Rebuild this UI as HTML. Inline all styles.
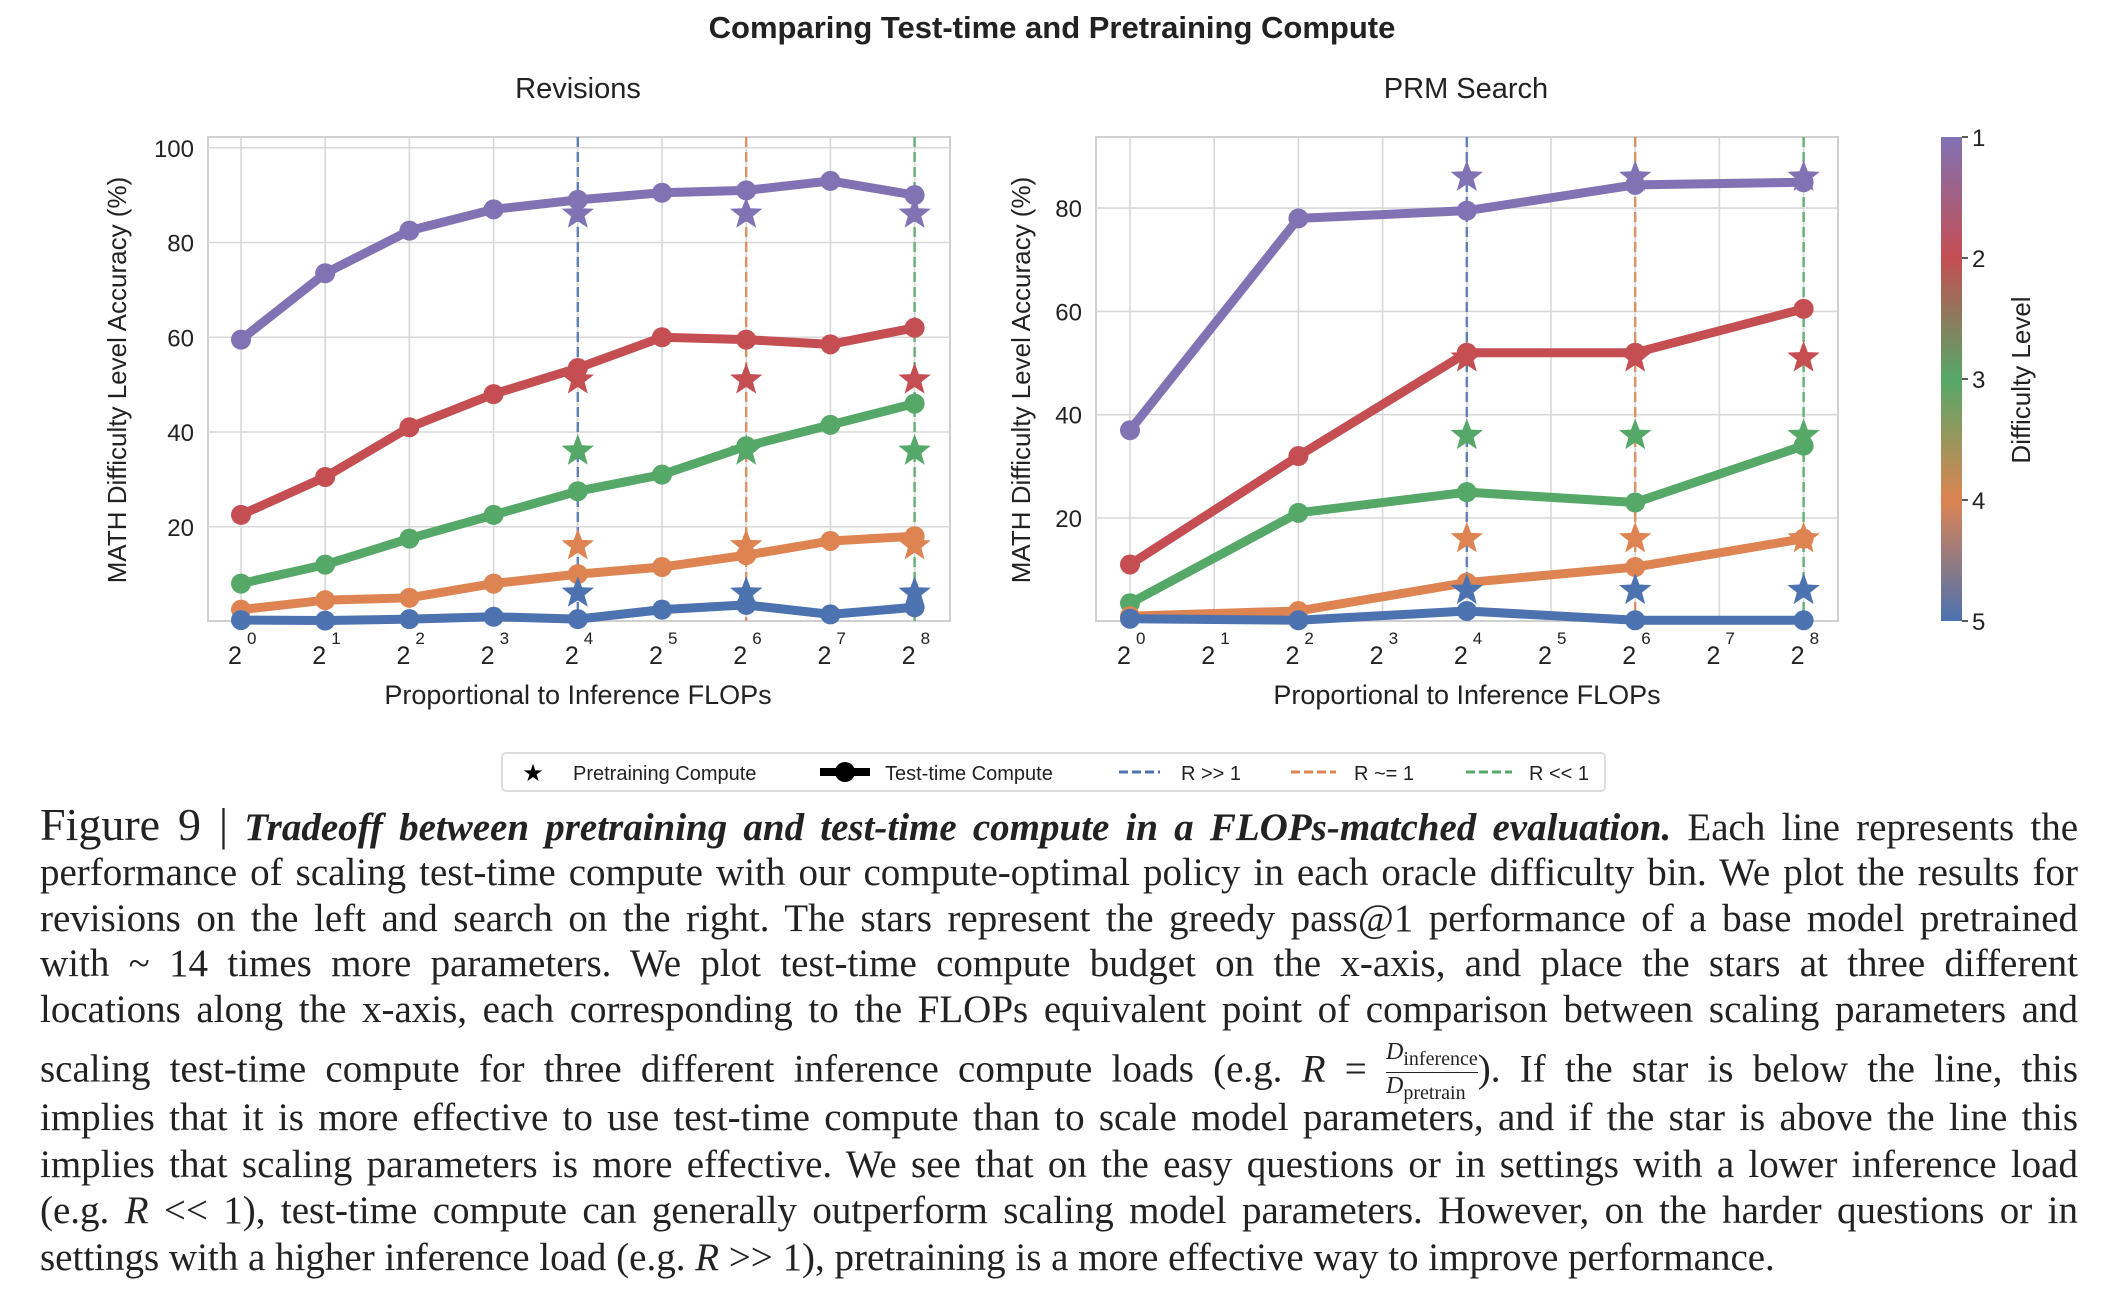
<!DOCTYPE html>
<html><head><meta charset="utf-8">
<style>
html,body{margin:0;padding:0;background:#fff;width:2104px;height:1302px;overflow:hidden}
svg text{font-family:"Liberation Sans",sans-serif}
.cap{position:absolute;left:40px;width:2038px;font-family:"Liberation Serif",serif;font-size:39px;color:#222;white-space:nowrap;text-align:justify;text-align-last:justify;line-height:44px}
.cap.last{text-align-last:left}
</style></head><body>
<svg id="fig" width="2104" height="800" style="position:absolute;left:0;top:0">
<text x="1052" y="38" text-anchor="middle" font-size="31" font-weight="bold" fill="#222">Comparing Test-time and Pretraining Compute</text>
<text x="578" y="98" text-anchor="middle" font-size="29" fill="#222">Revisions</text>
<text x="1466" y="98" text-anchor="middle" font-size="29" fill="#222">PRM Search</text>
<text transform="translate(126,380) rotate(-90)" text-anchor="middle" font-size="26" fill="#222">MATH Difficulty Level Accuracy (%)</text>
<text transform="translate(1030,380) rotate(-90)" text-anchor="middle" font-size="26" fill="#222">MATH Difficulty Level Accuracy (%)</text>
<text x="578" y="704" text-anchor="middle" font-size="27" fill="#222">Proportional to Inference FLOPs</text>
<text x="1467" y="704" text-anchor="middle" font-size="27" fill="#222">Proportional to Inference FLOPs</text>
<defs><linearGradient id="cb" x1="0" y1="0" x2="0" y2="1">
<stop offset="0" stop-color="#8172b3"/><stop offset="0.25" stop-color="#c44e52"/><stop offset="0.5" stop-color="#55a868"/><stop offset="0.75" stop-color="#dd8452"/><stop offset="1" stop-color="#4c72b0"/></linearGradient></defs>
<rect x="1941" y="137" width="21" height="484" fill="url(#cb)"/>
<text transform="translate(2030,380) rotate(-90)" text-anchor="middle" font-size="26" fill="#222">Difficulty Level</text>
<g id="cbticks"></g>
<g id="left"></g><g id="right"></g>
<g>
<rect x="502" y="753" width="1103" height="38" rx="4" fill="#fff" stroke="#ddd" stroke-width="2"/>
<text x="533" y="781" text-anchor="middle" font-size="24" fill="#000">★</text>
<text x="573" y="780" font-size="20" fill="#222">Pretraining Compute</text>
<line x1="820" y1="772" x2="870" y2="772" stroke="#000" stroke-width="8"/>
<circle cx="845" cy="772" r="10" fill="#000"/>
<text x="885" y="780" font-size="20" fill="#222">Test-time Compute</text>
<line x1="1119" y1="772" x2="1160" y2="772" stroke="#4c72b0" stroke-width="3" stroke-dasharray="9,4"/>
<text x="1181" y="780" font-size="20" fill="#222">R &gt;&gt; 1</text>
<line x1="1291" y1="772" x2="1336" y2="772" stroke="#dd8452" stroke-width="3" stroke-dasharray="9,4"/>
<text x="1354" y="780" font-size="20" fill="#222">R ~= 1</text>
<line x1="1466" y1="772" x2="1512" y2="772" stroke="#55a868" stroke-width="3" stroke-dasharray="9,4"/>
<text x="1529" y="780" font-size="20" fill="#222">R &lt;&lt; 1</text>
</g>
</svg>

<div>
<div class="cap" style="top:803px"><span style="font-size:46px">Figure 9 |</span> <b><i>Tradeoff between pretraining and test-time compute in a FLOPs-matched evaluation.</i></b> Each line represents the</div>
<div class="cap" style="top:851px">performance of scaling test-time compute with our compute-optimal policy in each oracle difficulty bin. We plot the results for</div>
<div class="cap" style="top:897px">revisions on the left and search on the right. The stars represent the greedy pass@1 performance of a base model pretrained</div>
<div class="cap" style="top:942px">with ~ 14 times more parameters. We plot test-time compute budget on the x-axis, and place the stars at three different</div>
<div class="cap" style="top:988px">locations along the x-axis, each corresponding to the FLOPs equivalent point of comparison between scaling parameters and</div>
<div class="cap" style="top:1039px">scaling test-time compute for three different inference compute loads (e.g. <i>R</i> = <span style="display:inline-block;vertical-align:middle;text-align:center;font-size:24px;line-height:26px"><span style="display:block;border-bottom:1.5px solid #222"><i>D</i><sub>inference</sub></span><span style="display:block"><i>D</i><sub>pretrain</sub></span></span>). If the star is below the line, this</div>
<div class="cap" style="top:1096px">implies that it is more effective to use test-time compute than to scale model parameters, and if the star is above the line this</div>
<div class="cap" style="top:1143px">implies that scaling parameters is more effective. We see that on the easy questions or in settings with a lower inference load</div>
<div class="cap" style="top:1189px">(e.g. <i>R</i> &lt;&lt; 1), test-time compute can generally outperform scaling model parameters. However, on the harder questions or in</div>
<div class="cap last" style="top:1236px">settings with a higher inference load (e.g. <i>R</i> &gt;&gt; 1), pretraining is a more effective way to improve performance.</div>
</div>

<script>
const colors = ['#8172b3','#c44e52','#55a868','#dd8452','#4c72b0'];
const levelNames = ['level-1','level-2','level-3','level-4','level-5'];
const leftX = [0,1,2,3,4,5,6,7,8];
const leftSeries = [
 [59.5,73.5,82.5,87,89,90.5,91,93,90],
 [22.5,30.5,41,48,53.5,60,59.5,58.5,62],
 [8,12,17.5,22.5,27.5,31,37,41.5,46],
 [2.5,4.5,5,8,10,11.5,14,17,18],
 [0.3,0.2,0.5,1,0.5,2.5,3.5,1.5,3]
];
const rightX = [0,2,4,6,8];
const rightSeries = [
 [37,78,79.5,84.5,85],
 [11,32,52,52,60.5],
 [3.5,21,25,23,34],
 [1,2,7.5,10.5,16],
 [0.5,0.2,2,0.2,0.2]
];
const starX = [4,6,8];
const starValues = [86,51,36,16,6];
const dashColors = ['#4c72b0','#dd8452','#55a868'];
const leftYTicks = [20,40,60,80,100];
const rightYTicks = [20,40,60,80];
const xTickExps = [0,1,2,3,4,5,6,7,8];
const cbLabels = ['1','2','3','4','5'];

const NS='http://www.w3.org/2000/svg';
function mk(parent,tag,attrs){const e=document.createElementNS(NS,tag);for(const k in attrs)e.setAttribute(k,attrs[k]);parent.appendChild(e);return e;}
function starPath(cx,cy,R){const r=R*0.42;let d='';for(let i=0;i<10;i++){const a=-Math.PI/2+i*Math.PI/5;const rr=i%2?r:R;d+=(i?'L':'M')+(cx+rr*Math.cos(a)).toFixed(1)+','+(cy+rr*Math.sin(a)).toFixed(1);}return d+'Z';}

function drawPanel(g,cfg){
 const sx=v=>cfg.x0+v*cfg.xstep;
 const sy=v=>cfg.ybot-(v-0)*cfg.ypx;
 mk(g,'rect',{x:cfg.left,y:137,width:cfg.right-cfg.left,height:484,fill:'#fff',stroke:'#d0d0d0','stroke-width':2});
 xTickExps.forEach(e=>{
  const l=mk(g,'line',{x1:sx(e),x2:sx(e),y1:137,y2:621,stroke:'#d8d8d8','stroke-width':1.6});
  
  
  const t=mk(g,'text',{x:sx(e)-6,y:664,'text-anchor':'middle','font-size':25,fill:'#222'});
  
  
  t.textContent='2';
  const s=mk(g,'text',{x:sx(e)+6,y:644,'text-anchor':'start','font-size':17,fill:'#222'});
  
  
  s.textContent=String(e);
 });
 cfg.yticks.forEach(v=>{
  const l=mk(g,'line',{x1:cfg.left,x2:cfg.right,y1:sy(v),y2:sy(v),stroke:'#d8d8d8','stroke-width':1.6});
  
  
  const t=mk(g,'text',{x:cfg.left-14,y:sy(v)+9,'text-anchor':'end','font-size':24,fill:'#222'});
  
  
  t.textContent=String(v);
 });
 starX.forEach((e,i)=>{
  const l=mk(g,'line',{x1:sx(e),x2:sx(e),y1:137,y2:621,stroke:dashColors[i],'stroke-width':2.5,'stroke-dasharray':'10,5',opacity:0.85});
  
  
 });
 cfg.series.forEach((vals,si)=>{
  const pts=vals.map((v,i)=>sx(cfg.xs[i])+','+sy(v)).join(' ');
  const pl=mk(g,'polyline',{points:pts,fill:'none',stroke:colors[si],'stroke-width':9,'stroke-linejoin':'round'});
  
  
  vals.forEach((v,i)=>{
   const c=mk(g,'circle',{cx:sx(cfg.xs[i]),cy:sy(v),r:10,fill:colors[si]});
   
   
  });
 });
 starValues.forEach((v,si)=>{
  starX.forEach(e=>{
   const p=mk(g,'path',{d:starPath(sx(e),sy(v),17),fill:colors[si]});
   
   
  });
 });
}
const L=document.getElementById('left');


drawPanel(L,{left:208,right:950,x0:241,xstep:84.2,ybot:621.5,ypx:94.75/20,yticks:leftYTicks,series:leftSeries,xs:leftX});
const Rg=document.getElementById('right');


drawPanel(Rg,{left:1096,right:1838,x0:1130,xstep:84.2,ybot:621.3,ypx:103.3/20,yticks:rightYTicks,series:rightSeries,xs:rightX});
const CB=document.getElementById('cbticks');
cbLabels.forEach((lab,i)=>{
 const y=137+i*121;
 mk(CB,'line',{x1:1962,x2:1968,y1:y,y2:y,stroke:'#222','stroke-width':1.5});
 const t=mk(CB,'text',{x:1972,y:y+9,'font-size':24,fill:'#222'});
 
 
 t.textContent=lab;
});
</script>
</body></html>
